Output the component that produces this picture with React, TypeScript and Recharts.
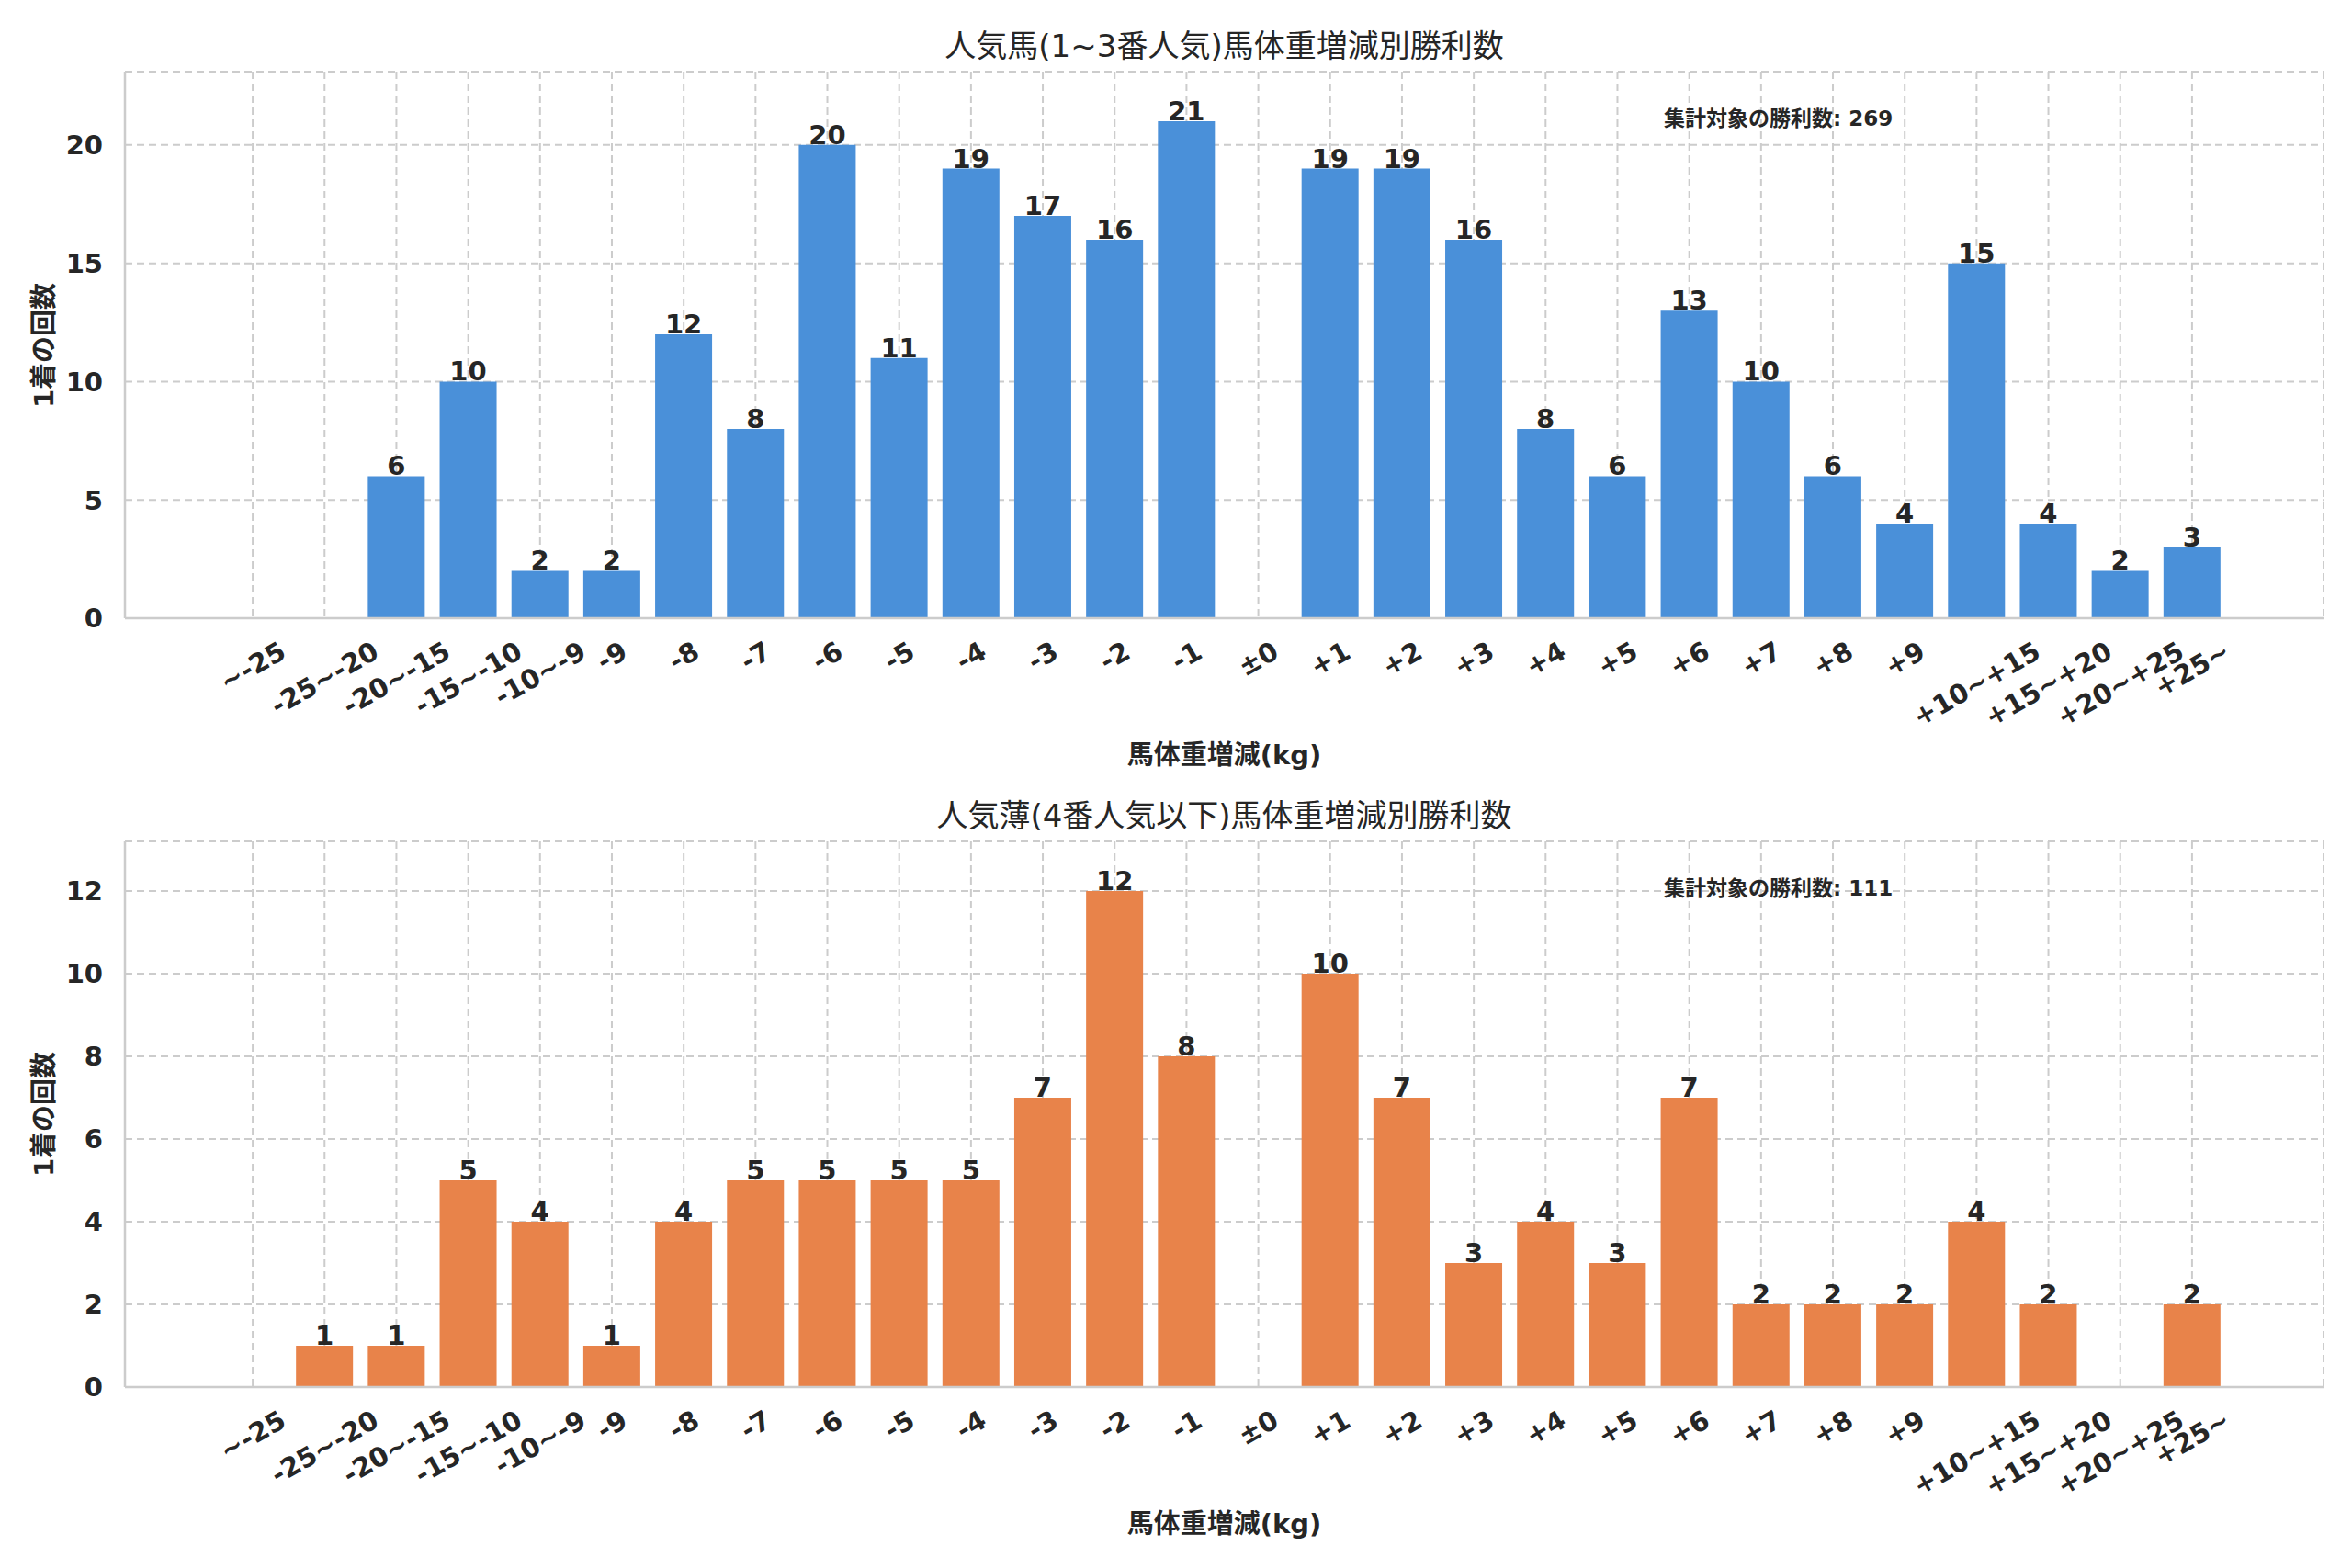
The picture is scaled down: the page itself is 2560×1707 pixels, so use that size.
import React from 'react';
import { BarChart, Bar, XAxis, YAxis, CartesianGrid, LabelList } from 'recharts';

const categories = ['~-25', '-25~-20', '-20~-15', '-15~-10', '-10~-9', '-9', '-8', '-7', '-6', '-5', '-4', '-3', '-2', '-1', '±0', '+1', '+2', '+3', '+4', '+5', '+6', '+7', '+8', '+9', '+10~+15', '+15~+20', '+20~+25', '+25~'];
const popularValues = [0, 0, 6, 10, 2, 2, 12, 8, 20, 11, 19, 17, 16, 21, 0, 19, 19, 16, 8, 6, 13, 10, 6, 4, 15, 4, 2, 3];
const longshotValues = [0, 1, 1, 5, 4, 1, 4, 5, 5, 5, 5, 7, 12, 8, 0, 10, 7, 3, 4, 3, 7, 2, 2, 2, 4, 2, 0, 2];
const popularTicks = [0, 5, 10, 15, 20];
const longshotTicks = [0, 2, 4, 6, 8, 10, 12];

const popularTitle = '人気馬(1~3番人気)馬体重増減別勝利数';
const longshotTitle = '人気薄(4番人気以下)馬体重増減別勝利数';
const xLabel = '馬体重増減(kg)';
const yLabel = '1着の回数';
const totalLabel = '集計対象の勝利数';

const FONT = '"DejaVu Sans", "Noto Sans CJK JP", sans-serif';
const TEXT = '#262626';
const GRID = '#cccccc';
const W = 2560;
const PLOT_LEFT = 136;
const MARGIN_RIGHT = 31;
const X_TICK_FS = 29;

let ctx: CanvasRenderingContext2D | null = null;
function measure(s: string, font: string): number {
  if (!ctx) {
    const c = document.createElement('canvas');
    ctx = c.getContext('2d');
  }
  if (!ctx) return s.length * X_TICK_FS * 0.6;
  ctx.font = font;
  return ctx.measureText(s).width;
}

const XTick = (props: any) => {
  const { x, y, payload } = props;
  const label = String(payload.value);
  const w = measure(label, `bold ${X_TICK_FS}px "DejaVu Sans"`);
  const h = 0.73 * X_TICK_FS;
  const H = 0.5 * w + 0.866 * h;
  const cy = y + 24 + H / 2;
  return (
    <text
      x={x}
      y={cy}
      textAnchor="middle"
      dominantBaseline="central"
      transform={`rotate(-30 ${x} ${cy})`}
      fontFamily={FONT}
      fontWeight="bold"
      fontSize={X_TICK_FS}
      fill={TEXT}
    >
      {label}
    </text>
  );
};

const ValueLabel = (props: any) => {
  const { x, y, width, value } = props;
  if (!value) return null;
  return (
    <text
      x={Number(x) + Number(width) / 2}
      y={Number(y) - 1}
      textAnchor="middle"
      fontFamily={FONT}
      fontWeight="bold"
      fontSize={29}
      fill={TEXT}
    >
      {value}
    </text>
  );
};

type PanelProps = {
  title: string;
  values: number[];
  ticks: number[];
  color: string;
  height: number;
  marginTop: number;
  xAxisHeight: number;
};

const Panel = ({ title, values, ticks, color, height, marginTop, xAxisHeight }: PanelProps) => {
  const data = categories.map((c, i) => ({ label: c, value: values[i] }));
  const maxV = Math.max(...values);
  const yMax = maxV * 1.1;
  const total = values.reduce((a, b) => a + b, 0);
  const plotTop = marginTop;
  const plotBottom = height - xAxisHeight;
  const plotRight = W - MARGIN_RIGHT;
  const plotCenterX = (PLOT_LEFT + plotRight) / 2;
  const plotW = plotRight - PLOT_LEFT;

  return (
    <div style={{ position: 'relative', width: W, height }}>
      <BarChart
        width={W}
        height={height}
        data={data}
        margin={{ top: marginTop, right: MARGIN_RIGHT, bottom: 0, left: 0 }}
        barSize={62}
      >
        <CartesianGrid stroke={GRID} strokeWidth={2} strokeDasharray="8 5" />
        <XAxis
          dataKey="label"
          type="category"
          interval={0}
          height={xAxisHeight}
          padding={{ left: 100, right: 104 }}
          tickLine={false}
          tickSize={0}
          tickMargin={0}
          axisLine={{ stroke: GRID, strokeWidth: 2.5 }}
          tick={<XTick />}
        />
        <XAxis
          xAxisId="top"
          dataKey="label"
          orientation="top"
          height={0}
          padding={{ left: 100, right: 104 }}
          tick={false}
          tickLine={false}
          axisLine={{ stroke: GRID, strokeWidth: 2.5 }}
        />
        <YAxis
          type="number"
          domain={[0, yMax]}
          ticks={ticks}
          width={PLOT_LEFT}
          tickLine={false}
          tickSize={0}
          tickMargin={24}
          axisLine={{ stroke: GRID, strokeWidth: 2.5 }}
          tick={{ fontFamily: FONT, fontWeight: 'bold', fontSize: 29, fill: TEXT }}
        />
        <YAxis
          yAxisId="right"
          orientation="right"
          type="number"
          domain={[0, yMax]}
          width={0}
          tick={false}
          tickLine={false}
          axisLine={{ stroke: GRID, strokeWidth: 2.5 }}
        />
        <Bar dataKey="value" fill={color} isAnimationActive={false}>
          <LabelList dataKey="value" content={<ValueLabel />} />
        </Bar>
      </BarChart>

      <div
        style={{
          position: 'absolute',
          left: plotCenterX,
          top: plotTop - 28,
          transform: 'translate(-50%, -50%)',
          fontFamily: FONT,
          fontSize: 34,
          color: TEXT,
          whiteSpace: 'nowrap',
          lineHeight: 1,
        }}
      >
        {title}
      </div>

      <div
        style={{
          position: 'absolute',
          left: PLOT_LEFT + 0.7 * plotW,
          top: plotTop + 51,
          transform: 'translate(0, -50%)',
          fontFamily: FONT,
          fontSize: 23,
          fontWeight: 'bold',
          color: TEXT,
          whiteSpace: 'nowrap',
          lineHeight: 1,
        }}
      >
        {`${totalLabel}: ${total}`}
      </div>

      <div
        style={{
          position: 'absolute',
          left: plotCenterX,
          top: plotBottom + 149,
          transform: 'translate(-50%, -50%)',
          fontFamily: FONT,
          fontSize: 29,
          fontWeight: 'bold',
          color: TEXT,
          whiteSpace: 'nowrap',
          lineHeight: 1,
        }}
      >
        {xLabel}
      </div>

      <div
        style={{
          position: 'absolute',
          left: 48,
          top: (plotTop + plotBottom) / 2,
          transform: 'translate(-50%, -50%) rotate(-90deg)',
          fontFamily: FONT,
          fontSize: 29,
          fontWeight: 'bold',
          color: TEXT,
          whiteSpace: 'nowrap',
          lineHeight: 1,
        }}
      >
        {yLabel}
      </div>
    </div>
  );
}
;

export default function App() {
  return (
    <div style={{ position: 'absolute', left: 0, top: 0, width: W, height: 1707, background: '#ffffff' }}>
      <Panel
        title={popularTitle}
        values={popularValues}
        ticks={popularTicks}
        color="#4A90D9"
        height={853}
        marginTop={78}
        xAxisHeight={180}
      />
      <Panel
        title={longshotTitle}
        values={longshotValues}
        ticks={longshotTicks}
        color="#E8834A"
        height={854}
        marginTop={63}
        xAxisHeight={197}
      />
    </div>
  );
}
